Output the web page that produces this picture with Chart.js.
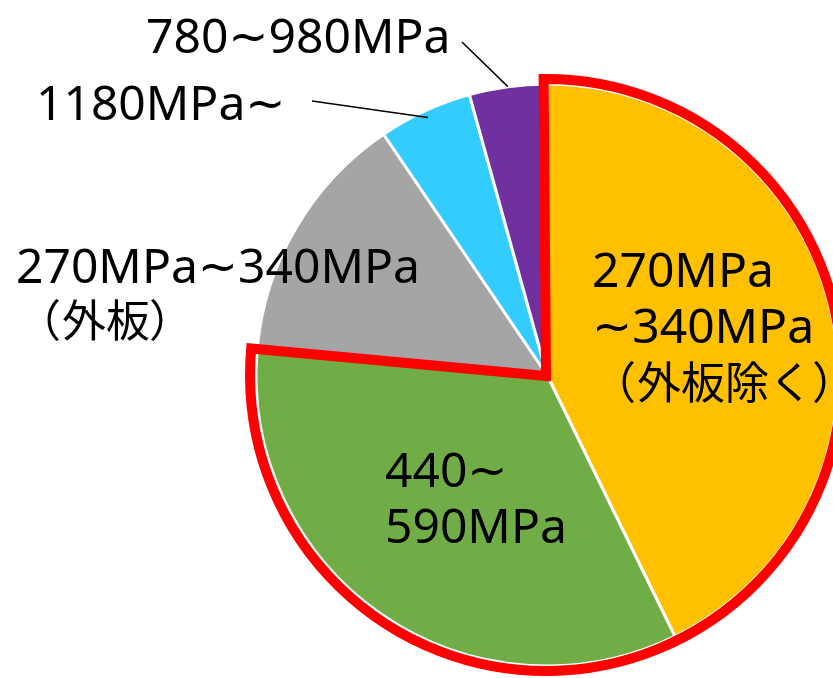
<!DOCTYPE html>
<html>
<head>
<meta charset="utf-8">
<script src="https://cdn.jsdelivr.net/npm/chart.js@4.4.1/dist/chart.umd.min.js"></script>
<style>
    body { margin: 0; background: #ffffff; }
    #wrap { width: 833px; height: 678px; position: relative; }
</style>
</head>
<body>
<div id="wrap"><canvas id="steelChart"></canvas></div>
<script>

// share of each steel grade (%), clockwise from 12 o'clock
const categories = ['270MPa～340MPa（外板除く）', '440～590MPa', '270MPa～340MPa（外板）', '1180MPa～', '780～980MPa'];
const shares = [42.8, 33.7, 14.1, 5.2, 4.3];
const labelLines = [
    ['270MPa', '～340MPa', '（外板除く）'],
    ['440～', '590MPa'],
    ['270MPa～340MPa', '（外板）'],
    ['1180MPa～'],
    ['780～980MPa']
];
const highlighted = [0, 1];

const sliceColors = ['#FFC000', '#70AD47', '#A5A5A5', '#33CCFF', '#7030A0'];

// text placement: left x, first baseline y, line step, per-line indent; leader = [from x, from y, radius factor]
const labelLayout = [
    { x: 592, y: 287, step: 56, indent: [0, 0, 30] },
    { x: 385, y: 487, step: 56 },
    { x: 16, y: 283, step: 54, indent: [0, 31] },
    { x: 36, y: 120, step: 0, leader: [312, 101, 0.975] },
    { x: 146, y: 53, step: 0, leader: [462, 42, 1.0] }
];

const latinFont = '48px "Noto Sans", sans-serif';
const cjkFont = '44px "Noto Sans CJK JP", sans-serif';
const tildeFont = '48px "DejaVu Sans", sans-serif';

// draws one line char by char: wave dash from DejaVu, tight full-width parens
const drawLine = (ctx, text, x, y) => {
    let cx = x;
    for (const ch of text) {
        if (ch === '～') {
            ctx.font = tildeFont;
            ctx.fillText('~', cx, y);
            cx += ctx.measureText('~').width;
        } else if (ch === '（' || ch === '）') {
            ctx.font = cjkFont;
            const m = ctx.measureText(ch);
            const inkL = -m.actualBoundingBoxLeft;
            const inkW = m.actualBoundingBoxRight + m.actualBoundingBoxLeft;
            if (ch === '）') cx += 1;
            ctx.fillText(ch, cx - inkL, y);
            cx += inkW + 3;
        } else if (ch.charCodeAt(0) > 0x2000) {
            ctx.font = cjkFont;
            ctx.fillText(ch, cx, y);
            cx += ctx.measureText(ch).width;
        } else {
            ctx.font = latinFont;
            ctx.fillText(ch, cx, y);
            cx += ctx.measureText(ch).width;
        }
    }
};

const labelPlugin = {
    id: 'labelPlugin',
    afterDatasetsDraw(chart) {
        const ctx = chart.ctx;
        const arcs = chart.getDatasetMeta(0).data;
        const first = arcs[highlighted[0]];
        const last = arcs[highlighted[highlighted.length - 1]];

        // red frame around the highlighted slices
        ctx.save();
        ctx.strokeStyle = '#FF0000';
        ctx.lineWidth = 10;
        ctx.lineJoin = 'miter';
        ctx.beginPath();
        ctx.moveTo(first.x - 1, first.y + 1);
        ctx.arc(first.x - 1, first.y, first.outerRadius + 5, first.startAngle - 0.008, last.endAngle);
        ctx.closePath();
        ctx.stroke();
        ctx.restore();

        ctx.save();
        ctx.fillStyle = '#000000';
        ctx.textAlign = 'left';
        ctx.textBaseline = 'alphabetic';
        labelLines.forEach((lines, i) => {
            const lay = labelLayout[i];
            lines.forEach((t, j) => {
                const ind = lay.indent ? lay.indent[j] : 0;
                drawLine(ctx, t, lay.x + ind, lay.y + j * lay.step);
            });
            if (lay.leader) {
                const a = arcs[i];
                const mid = (a.startAngle + a.endAngle) / 2;
                const r = a.outerRadius * lay.leader[2];
                ctx.strokeStyle = '#000000';
                ctx.lineWidth = 1.5;
                ctx.beginPath();
                ctx.moveTo(lay.leader[0], lay.leader[1]);
                ctx.lineTo(a.x + r * Math.cos(mid), a.y + r * Math.sin(mid));
                ctx.stroke();
            }
        });
        ctx.restore();
    }
};

const steelCTX = document.getElementById('steelChart');

const steelChart = new Chart(steelCTX, {
    type: 'pie',
    data: {
        labels: categories,
        datasets: [{
            data: shares,
            backgroundColor: sliceColors,
            borderColor: '#ffffff',
            borderWidth: 3,
            radius: 291,
            clip: false
        }]
    },
    options: {
        responsive: true,
        maintainAspectRatio: false,
        animation: false,
        layout: {
            padding: { left: 261, top: 72, right: 0, bottom: 0 }
        },
        plugins: {
            legend: { display: false },
            tooltip: { enabled: false }
        }
    },
    plugins: [labelPlugin]
});
</script>
</body>
</html>
